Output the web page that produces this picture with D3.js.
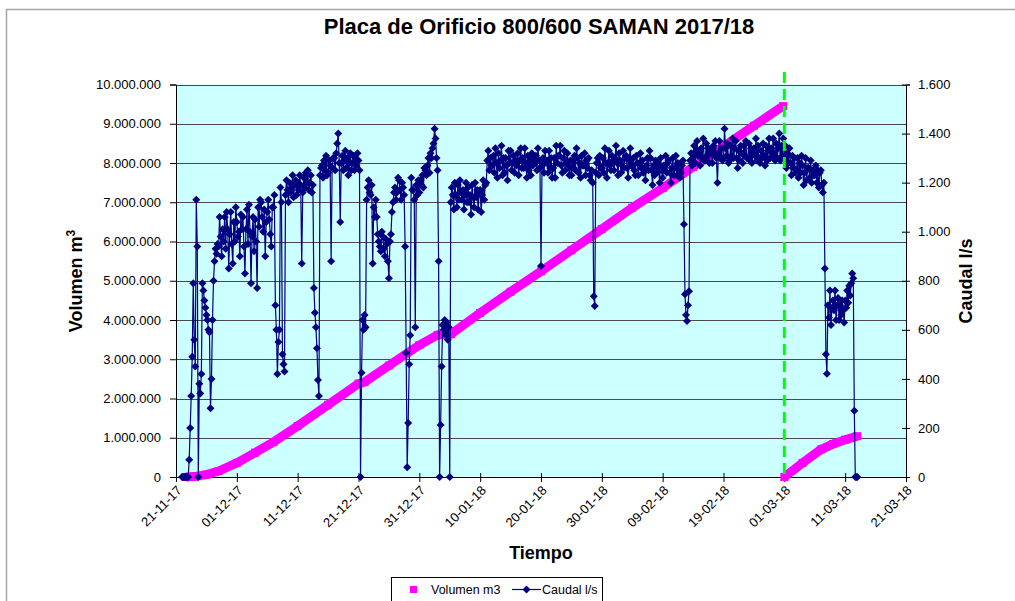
<!DOCTYPE html>
<html>
<head>
<meta charset="utf-8">
<script src="https://cdnjs.cloudflare.com/ajax/libs/d3/7.8.5/d3.min.js"></script>
<style>
  body { margin: 0; background: #fff; }
  svg { display: block; font-family: "Liberation Sans", Arial, sans-serif; }
</style>
</head>
<body>
<svg id="chart" width="1015" height="601"></svg>
<script>
// ---- datos ----
const titulo = "Placa de Orificio 800/600 SAMAN 2017/18";
const fechaInicio = "2017-11-21", fechaFin = "2018-03-21";
const ticksFecha = ["2017-11-21", "2017-12-01", "2017-12-11", "2017-12-21", "2017-12-31", "2018-01-10",
                    "2018-01-20", "2018-01-30", "2018-02-09", "2018-02-19", "2018-03-01", "2018-03-11", "2018-03-21"];
const ticksVolumen = [0, 1e6, 2e6, 3e6, 4e6, 5e6, 6e6, 7e6, 8e6, 9e6, 10e6];
const ticksCaudal = [0, 200, 400, 600, 800, 1000, 1200, 1400, 1600];
const fechaCambio = "2018-03-01";   // linea verde discontinua

// Volumen acumulado (millones de m3), dias desde 21-11-17; dos tramos
const volumenDias1 = [1.6, 3, 5, 7, 10, 13, 16, 20, 25, 30, 31, 35, 40, 43, 45.2, 50, 55, 60, 65, 70, 75, 80, 85, 90, 95, 99.8];
const volumenM3_1  = [0, 0.01, 0.06, 0.15, 0.36, 0.62, 0.89, 1.30, 1.84, 2.38, 2.42, 2.84, 3.36, 3.62, 3.64, 4.18, 4.72, 5.24, 5.78, 6.32, 6.86, 7.36, 7.90, 8.42, 8.95, 9.45];
const volumenDias2 = [100, 103, 106, 108, 110, 112];
const volumenM3_2  = [0, 0.36, 0.70, 0.84, 0.95, 1.04];

// Caudal l/s, una lectura cada 4 horas desde 22-11-17 00:00 (una fila por dia)
const caudalInicio = "2017-11-22";
const caudalPasoHoras = 4;
const caudalLs = [
  0, 0, 0, 0, 0, 0,
  0, 70, 200, 330, 490, 790,
  560, 450, 1130, 940, 0, 380,
  340, 420, 790, 760, 720, 690,
  660, 640, 600, 590, 280, 400,
  640, 800, 880, 930, 910, 950,
  940, 1060, 980, 900, 1010, 960,
  1060, 930, 1080, 1010, 850, 990,
  1080, 950, 870, 1040, 960, 1100,
  1040, 980, 1000, 900, 1070, 1010,      // 01-12
  1060, 940, 830, 1010, 1090, 950,
  1110, 1000, 790, 980, 1060, 920,
  1050, 960, 770, 1100, 1020, 1130,
  1120, 1060, 1000, 1090, 900, 1040,
  1080, 1130, 1050, 990, 940, 1100,
  1100, 1150, 700, 600, 420, 550,
  600, 1180, 1120, 500, 460, 430,
  1150, 1210, 1170, 1120, 1200, 1160,
  1180, 1230, 1140, 1190, 1210, 1150,
  1200, 1170, 1230, 1190, 870, 1160,     // 11-12
  1220, 1180, 1240, 1200, 1250, 1170,
  1200, 1230, 1160, 1190, 770, 670,
  610, 525, 395, 330, 1230, 1260,
  1270, 1220, 1290, 1250, 1310, 1230,
  1240, 1290, 1270, 880, 1260, 1300,
  1300, 1250, 1320, 1360, 1400, 1280,
  1040, 1280, 1310, 1250, 1290, 1330,
  1260, 1300, 1230, 1280, 1320, 1250,
  1280, 1310, 1250, 1300, 1270, 1320,
  1290, 1250, 0, 425, 640, 600,          // 21-12
  660, 610, 1130, 1180, 1210, 1160,
  1150, 1190, 870, 1100, 1060, 1130,
  1060, 990, 960, 940, 920, 1000,
  980, 930, 900, 970, 950, 880,
  810, 960, 990, 1080, 1120, 1160,
  1180, 1130, 1160, 1220, 1210, 1170,
  1130, 1200, 1180, 1150, 940, 505,
  40, 220, 460, 578, 1220, 1170,
  1170, 1130, 610, 1190, 1150, 1210,
  1160, 1210, 1190, 1230, 1180, 1260,    // 31-12
  1250, 1230, 1270, 1300, 1240, 1320,
  1300, 1340, 1360, 1420, 1380, 1300,
  1250, 880, 0, 212, 450, 620,
  600, 640, 580, 630, 560, 610,
  0, 1120, 1180, 1150, 1090, 1200,
  1150, 1100, 1190, 1130, 1210, 1160,
  1130, 1170, 1090, 1150, 1200, 1120,
  1180, 1120, 1150, 1070, 1190, 1140,
  1100, 1200, 1140, 1170, 1090, 1160,
  1170, 1080, 1150, 1210, 1130, 1190,    // 10-01
  1200, 1290, 1330, 1250, 1300, 1270,
  1270, 1310, 1240, 1340, 1280, 1220,
  1320, 1260, 1290, 1350, 1230, 1300,
  1240, 1300, 1270, 1210, 1330, 1280,
  1330, 1250, 1280, 1310, 1240, 1290,
  1270, 1320, 1230, 1290, 1340, 1260,
  1300, 1260, 1340, 1280, 1220, 1310,
  1250, 1290, 1230, 1320, 1270, 1300,
  1280, 1310, 1250, 1340, 1290, 1260,
  860, 1270, 1300, 1240, 1330, 1280,     // 20-01
  1290, 1240, 1330, 1260, 1300, 1220,
  1260, 1300, 1220, 1350, 1280, 1310,
  1310, 1350, 1270, 1240, 1300, 1330,
  1250, 1280, 1320, 1270, 1230, 1290,
  1230, 1290, 1260, 1310, 1250, 1340,
  1300, 1240, 1280, 1220, 1310, 1270,
  1270, 1320, 1230, 1290, 1260, 1300,
  1230, 1210, 1250, 1200, 737, 697,
  1240, 1280, 1300, 1230, 1310, 1260,
  1260, 1300, 1240, 1340, 1280, 1220,    // 30-01
  1280, 1330, 1270, 1250, 1310, 1290,
  1250, 1300, 1350, 1280, 1230, 1320,
  1290, 1240, 1270, 1330, 1260, 1300,
  1310, 1260, 1220, 1290, 1340, 1270,
  1270, 1300, 1250, 1230, 1310, 1280,
  1230, 1280, 1320, 1260, 1290, 1240,
  1260, 1210, 1270, 1300, 1250, 1330,
  1300, 1250, 1190, 1270, 1230, 1290,
  1240, 1280, 1260, 1200, 1300, 1250,
  1220, 1270, 1250, 1310, 1240, 1280,    // 09-02
  1290, 1240, 1200, 1260, 1300, 1230,
  1260, 1310, 1230, 1280, 1250, 1220,
  1240, 1270, 1290, 1030, 745, 660,
  636, 700, 757, 1290, 1320, 1270,
  1300, 1350, 1280, 1330, 1370, 1310,
  1320, 1270, 1340, 1300, 1380, 1290,
  1290, 1360, 1310, 1340, 1280, 1330,
  1330, 1280, 1350, 1310, 1370, 1300,
  1200, 1320, 1370, 1300, 1340, 1290,
  1300, 1420, 1340, 1310, 1360, 1280,    // 19-02
  1290, 1350, 1310, 1380, 1300, 1340,
  1370, 1300, 1260, 1330, 1290, 1350,
  1320, 1280, 1350, 1310, 1370, 1300,
  1300, 1360, 1290, 1340, 1280, 1320,
  1340, 1310, 1380, 1290, 1350, 1300,
  1280, 1330, 1300, 1360, 1310, 1270,
  1350, 1290, 1330, 1380, 1300, 1340,
  1310, 1380, 1320, 1290, 1360, 1300,
  1340, 1400, 1290, 1350, 1310, 1380,
  1300, 1350, 1260, 1320, 1280, 1340,    // 01-03
  1280, 1230, 1310, 1260, 1300, 1240,
  1250, 1300, 1220, 1280, 1240, 1310,
  1270, 1190, 1240, 1300, 1210, 1260,
  1260, 1220, 1290, 1200, 1250, 1230,
  1230, 1270, 1200, 1250, 1180, 1240,
  1250, 1190, 1160, 1200, 850, 500,
  421, 700, 650, 760, 620, 690,
  720, 680, 760, 640, 700, 730,
  640, 700, 660, 720, 680, 630,
  720, 690, 760, 710, 780, 740,          // 11-03
  790, 830, 810, 270, 0, 0,
  0
];

// ---- grafico ----
const svg = d3.select("#chart");
const plot = {left: 176, right: 906, top: 84.5, bottom: 477};
const parse = d3.utcParse("%Y-%m-%d");
const t0 = parse(fechaInicio);
const porDia = d => new Date(t0.getTime() + d * 864e5);

const x = d3.scaleUtc().domain([t0, parse(fechaFin)]).range([plot.left, plot.right]);
const yVol = d3.scaleLinear().domain([0, 10e6]).range([plot.bottom, plot.top]);
const yCau = d3.scaleLinear().domain([0, 1600]).range([plot.bottom, plot.top]);

const loc = d3.formatLocale({decimal: ",", thousands: ".", grouping: [3], currency: ["", ""]});
const fmt = loc.format(",d");
const fmtFecha = d3.utcFormat("%d-%m-%y");

// marco exterior
svg.append("rect").attr("width", 1015).attr("height", 601).attr("fill", "#fff");
svg.append("rect").attr("x", 6.5).attr("y", 9.5).attr("width", 1100).attr("height", 700)
  .attr("fill", "#fff").attr("stroke", "#a6a6a6").attr("stroke-width", 1.5);

// fondo del area
svg.append("rect").attr("x", plot.left).attr("y", plot.top)
  .attr("width", plot.right - plot.left).attr("height", plot.bottom - plot.top)
  .attr("fill", "#ccffff");

// lineas de division
svg.append("g").selectAll("line").data(ticksVolumen).join("line")
  .attr("x1", plot.left).attr("x2", plot.right)
  .attr("y1", d => Math.round(yVol(d)) + 0.5).attr("y2", d => Math.round(yVol(d)) + 0.5)
  .attr("stroke", "#4a4a4a").attr("stroke-width", 1);

// ejes
const ejeY = svg.append("g").attr("transform", `translate(${plot.left},0)`)
  .call(d3.axisLeft(yVol).tickValues(ticksVolumen).tickFormat(fmt).tickSize(6).tickPadding(9));
const ejeY2 = svg.append("g").attr("transform", `translate(${plot.right},0)`)
  .call(d3.axisRight(yCau).tickValues(ticksCaudal).tickFormat(fmt).tickSize(4).tickPadding(8));
ejeY2.selectAll(".tick line").attr("x1", -4);
const ejeX = svg.append("g").attr("transform", `translate(0,${plot.bottom})`)
  .call(d3.axisBottom(x).tickValues(ticksFecha.map(parse)).tickFormat(fmtFecha).tickSize(5));
ejeX.selectAll(".tick line").attr("y1", -4);
ejeX.selectAll(".tick text")
  .attr("text-anchor", "end")
  .attr("transform", "translate(3,11) rotate(-45)")
  .attr("y", 0).attr("dy", "0.35em");

[ejeY, ejeY2, ejeX].forEach(g => {
  g.selectAll(".domain").attr("stroke", "#000").attr("stroke-width", 1);
  g.selectAll(".tick line").attr("stroke", "#000");
  g.selectAll("text").attr("font-size", 13).attr("fill", "#000")
    .style("font-family", '"Liberation Sans", Arial, sans-serif');
});

// serie volumen (magenta)
const lineaVol = d3.line().x(d => x(porDia(d[0]))).y(d => yVol(d[1] * 1e6));
[[volumenDias1, volumenM3_1], [volumenDias2, volumenM3_2]].forEach(([dias, vals]) => {
  const pts = dias.map((d, i) => [d, vals[i]]);
  svg.append("path").datum(pts).attr("d", lineaVol)
    .attr("fill", "none").attr("stroke", "#ff00ff").attr("stroke-width", 9);
  svg.append("g").selectAll("rect").data(pts).join("rect")
    .attr("x", d => x(porDia(d[0])) - 4).attr("y", d => yVol(d[1] * 1e6) - 4)
    .attr("width", 8).attr("height", 8).attr("fill", "#ff00ff");
});

// serie caudal (azul marino con rombos)
const tc0 = parse(caudalInicio);
const caudal = caudalLs.map((v, i) => ({t: d3.utcHour.offset(tc0, i * caudalPasoHoras), v}));
svg.append("path").datum(caudal)
  .attr("d", d3.line().x(d => x(d.t)).y(d => yCau(d.v)))
  .attr("fill", "none").attr("stroke", "#000080").attr("stroke-width", 1.2);
const rombo = d3.symbol().type(d3.symbolSquare).size(32);
svg.append("g").selectAll("path").data(caudal).join("path")
  .attr("d", rombo)
  .attr("transform", d => `translate(${x(d.t)},${yCau(d.v)}) rotate(45)`)
  .attr("fill", "#000080");

// linea verde discontinua
svg.append("line")
  .attr("x1", x(parse(fechaCambio))).attr("x2", x(parse(fechaCambio)))
  .attr("y1", 72).attr("y2", plot.bottom)
  .attr("stroke", "#00ff00").attr("stroke-width", 3).attr("stroke-dasharray", "11,6");

// titulos
svg.append("text").attr("x", 539).attr("y", 34).attr("text-anchor", "middle")
  .attr("font-size", 22).attr("font-weight", "bold").text(titulo);
svg.append("text").attr("transform", "translate(82,281) rotate(-90)").attr("text-anchor", "middle")
  .attr("font-size", 18).attr("font-weight", "bold")
  .call(t => { t.append("tspan").text("Volumen m"); t.append("tspan").attr("dy", -7).attr("font-size", 12).text("3"); });
svg.append("text").attr("transform", "translate(972,281) rotate(-90)").attr("text-anchor", "middle")
  .attr("font-size", 18).attr("font-weight", "bold").text("Caudal l/s");
svg.append("text").attr("x", 541).attr("y", 559).attr("text-anchor", "middle")
  .attr("font-size", 18).attr("font-weight", "bold").text("Tiempo");

// leyenda
const ley = svg.append("g");
ley.append("rect").attr("x", 391.5).attr("y", 577.5).attr("width", 211).attr("height", 40)
  .attr("fill", "#fff").attr("stroke", "#000");
ley.append("rect").attr("x", 410).attr("y", 586).attr("width", 7).attr("height", 7).attr("fill", "#ff00ff");
ley.append("text").attr("x", 431).attr("y", 594).attr("font-size", 12.5).text("Volumen m3");
ley.append("line").attr("x1", 512).attr("x2", 541).attr("y1", 589.5).attr("y2", 589.5)
  .attr("stroke", "#000080").attr("stroke-width", 1.2);
ley.append("path").attr("d", rombo).attr("transform", "translate(526.5,589.5) rotate(45)").attr("fill", "#000080");
ley.append("text").attr("x", 542).attr("y", 594).attr("font-size", 12.5).text("Caudal l/s");
</script>
</body>
</html>
